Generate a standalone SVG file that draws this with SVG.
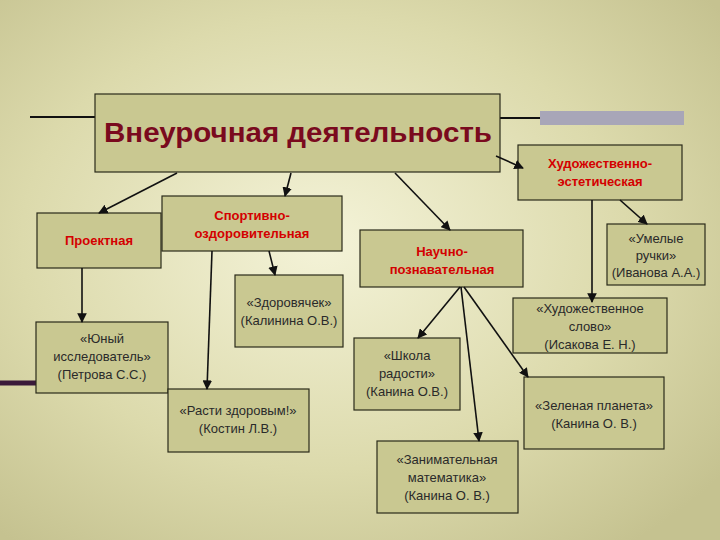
<svg xmlns="http://www.w3.org/2000/svg" width="720" height="540" viewBox="0 0 720 540">
<defs>
<radialGradient id="bg" cx="0.45" cy="0.45" r="0.7">
<stop offset="0" stop-color="#f4f3d8"/><stop offset="0.6" stop-color="#dcdaac"/><stop offset="1" stop-color="#c5c290"/>
</radialGradient>
<marker id="ar" viewBox="0 0 10 10" refX="9" refY="5" markerWidth="6" markerHeight="6" orient="auto"><path d="M0,0 L10,5 L0,10 z" fill="#111"/></marker>
<style>
.b{fill:#c9c891;stroke:#2a2a1a;stroke-width:1.2}
.t{font-family:"Liberation Sans",Arial,sans-serif;font-size:13px;fill:#2a2a2a;text-anchor:middle}
.r{font-family:"Liberation Sans",Arial,sans-serif;font-size:13px;font-weight:bold;fill:#d40000;text-anchor:middle}
.c line{stroke:#111;stroke-width:1.6;marker-end:url(#ar)}
</style>
</defs>
<rect width="720" height="540" fill="url(#bg)"/>
<line x1="30" y1="117" x2="95" y2="117" stroke="#111" stroke-width="2"/>
<line x1="500" y1="118" x2="684" y2="118" stroke="#111" stroke-width="2"/>
<rect x="540" y="111" width="144" height="14" fill="#a8a6b8"/>
<line x1="0" y1="383" x2="36" y2="383" stroke="#3a1a3a" stroke-width="5"/>
<g id="main"><rect class="b" x="95" y="94" width="405" height="78"/><text x="298" y="142" font-family="Liberation Sans,Arial,sans-serif" font-size="27" font-weight="bold" fill="#7a0a1e" text-anchor="middle" textLength="388" lengthAdjust="spacingAndGlyphs">Внеурочная деятельность</text></g>
<g id="hud"><rect class="b" x="518" y="145" width="164" height="55"/><text class="r" x="600" y="168">Художественно-</text><text class="r" x="600" y="186">эстетическая</text></g>
<g id="proekt"><rect class="b" x="37" y="213" width="124" height="55"/><text class="r" x="99" y="245">Проектная</text></g>
<g id="sport"><rect class="b" x="162" y="196" width="180" height="55"/><text class="r" x="252" y="220">Спортивно-</text><text class="r" x="252" y="238">оздоровительная</text></g>
<g id="nauch"><rect class="b" x="360" y="230" width="163" height="57"/><text class="r" x="442" y="256">Научно-</text><text class="r" x="442" y="274">познавательная</text></g>
<g id="umel"><rect class="b" x="607" y="224" width="98" height="61"/><text class="t" x="656" y="243">«Умелые</text><text class="t" x="656" y="260">ручки»</text><text class="t" x="656" y="277">(Иванова А.А.)</text></g>
<g id="zdor"><rect class="b" x="235" y="275" width="108" height="72"/><text class="t" x="289" y="307">«Здоровячек»</text><text class="t" x="289" y="325">(Калинина О.В.)</text></g>
<g id="yun"><rect class="b" x="36" y="322" width="132" height="71"/><text class="t" x="102" y="343">«Юный</text><text class="t" x="102" y="361">исследователь»</text><text class="t" x="102" y="379">(Петрова С.С.)</text></g>
<g id="rasti"><rect class="b" x="168" y="389" width="141" height="63"/><text class="t" x="238" y="415">«Расти здоровым!»</text><text class="t" x="238" y="433">(Костин Л.В.)</text></g>
<g id="shkola"><rect class="b" x="354" y="338" width="106" height="72"/><text class="t" x="407" y="360">«Школа</text><text class="t" x="407" y="378">радости»</text><text class="t" x="407" y="396">(Канина О.В.)</text></g>
<g id="hslovo"><rect class="b" x="513" y="298" width="154" height="55"/><text class="t" x="590" y="313">«Художественное</text><text class="t" x="590" y="331">слово»</text><text class="t" x="590" y="349">(Исакова Е. Н.)</text></g>
<g id="zel"><rect class="b" x="524" y="377" width="140" height="72"/><text class="t" x="594" y="410">«Зеленая планета»</text><text class="t" x="594" y="428">(Канина О. В.)</text></g>
<g id="zanim"><rect class="b" x="377" y="441" width="141" height="72"/><text class="t" x="447" y="464">«Занимательная</text><text class="t" x="447" y="482">математика»</text><text class="t" x="447" y="500">(Канина О. В.)</text></g>
<g class="c" id="connectors">
<line x1="177" y1="173" x2="99" y2="213"/>
<line x1="291" y1="173" x2="285" y2="196"/>
<line x1="395" y1="173" x2="450" y2="230"/>
<line x1="496" y1="156" x2="523" y2="168"/>
<line x1="620" y1="200" x2="647" y2="224"/>
<line x1="592" y1="200" x2="592" y2="302"/>
<line x1="82" y1="268" x2="82" y2="322"/>
<line x1="212" y1="251" x2="207" y2="389"/>
<line x1="269" y1="251" x2="275" y2="275"/>
<line x1="460" y1="287" x2="418" y2="338"/>
<line x1="461" y1="287" x2="479" y2="441"/>
<line x1="464" y1="287" x2="528" y2="377"/>
</g>
</svg>
